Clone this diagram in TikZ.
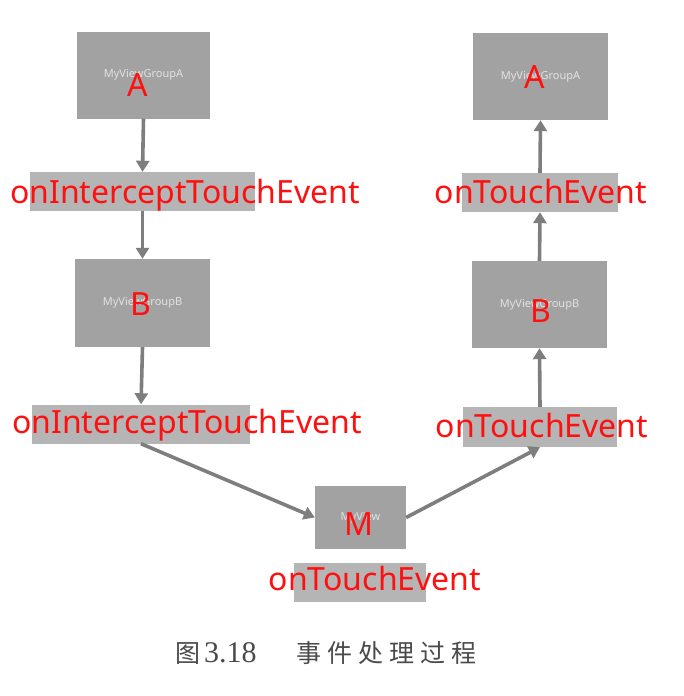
\documentclass[tikz,border=0pt]{standalone}
\usepackage{fontspec}
\setmainfont{Noto Sans}
\newfontfamily\cjkfont{Noto Sans CJK SC}
\newfontfamily\capserif{Liberation Serif}
\usetikzlibrary{arrows.meta}
\definecolor{boxgray}{HTML}{A2A2A2}
\definecolor{lblgray}{HTML}{B5B5B5}
\definecolor{arrgray}{HTML}{7E7E7E}
\definecolor{redtxt}{HTML}{FF1010}
\definecolor{faint}{HTML}{E2E2E2}
\definecolor{capgray}{HTML}{4A4A4A}
\begin{document}
\begin{tikzpicture}[x=1pt,y=-1pt,
  bigbox/.style={draw=none,fill=boxgray,inner sep=0pt,text=faint,font=\fontsize{11}{11}\selectfont},
  lblbox/.style={draw=none,fill=lblgray,inner sep=0pt},
  redlab/.style={text=redtxt,anchor=base,inner sep=0pt,font=\fontsize{32}{32}\selectfont},
  flow/.style={draw=arrgray,line width=3.6pt,-{Triangle[length=11pt,width=13pt]}},
  captext/.style={anchor=base west,inner sep=0pt,text=capgray}]
\useasboundingbox (0,0) rectangle (683,696);
\fill[white] (0,0) rectangle (683,696);
% left column
\node[bigbox,minimum width=133pt,minimum height=87pt] (la) at (143.5,75) {MyViewGroupA};
\node[lblbox,minimum width=225pt,minimum height=39pt] (ll1) at (142.5,191.5) {};
\node[bigbox,minimum width=135pt,minimum height=88pt] (lb) at (142.5,303) {MyViewGroupB};
\node[lblbox,minimum width=218pt,minimum height=39pt] (ll2) at (141,424) {};
% middle
\node[bigbox,minimum width=91pt,minimum height=63pt] (m) at (360.5,517.5) {MyView};
\node[lblbox,minimum width=132pt,minimum height=39pt] (lm) at (360,582.5) {};
% right column
\node[bigbox,minimum width=135pt,minimum height=87pt] (ra) at (540.5,76.5) {MyViewGroupA};
\node[lblbox,minimum width=156pt,minimum height=39pt] (rl1) at (540,192.5) {};
\node[bigbox,minimum width=135pt,minimum height=87pt] (rb) at (539.5,304.5) {MyViewGroupB};
\node[lblbox,minimum width=154pt,minimum height=40pt] (rl2) at (540,427) {};
% arrows
\draw[flow] (la.south) -- (ll1.north);
\draw[flow] (ll1.south) -- (lb.north);
\draw[flow] (lb.south) -- (ll2.north);
\draw[flow] (ll2.south) -- (m.west);
\draw[flow] (m.east) -- (rl2.south);
\draw[flow] (rl2.north) -- (rb.south);
\draw[flow] (rb.north) -- (rl1.south);
\draw[flow] (rl1.north) -- (ra.south);
% red overlay labels
\node[redlab] (tla) at (138,96) {A};
\node[redlab] (tll1) at (185,203) {onInterceptTouchEvent};
\node[redlab] (tlb) at (141,315) {B};
\node[redlab] (tll2) at (187,433) {onInterceptTouchEvent};
\node[redlab] (tra) at (535,88) {A};
\node[redlab] (trl1) at (541,203) {onTouchEvent};
\node[redlab] (trb) at (541,322) {B};
\node[redlab] (trl2) at (542,437) {onTouchEvent};
\node[redlab] (tm) at (359,535) {M};
\node[redlab] (tlm) at (375,590) {onTouchEvent};
% caption
\node[captext] (cap1) at (175,662) {\cjkfont\fontsize{25}{25}\selectfont 图};
\node[captext] (cap2) at (204,662) {\capserif\fontsize{30}{30}\selectfont 3.18};
\node[captext] (cap3) at (296,662) {\cjkfont\fontsize{25}{25}\selectfont 事\hspace{6pt}件\hspace{6pt}处\hspace{6pt}理\hspace{6pt}过\hspace{6pt}程};
\end{tikzpicture}
\end{document}
